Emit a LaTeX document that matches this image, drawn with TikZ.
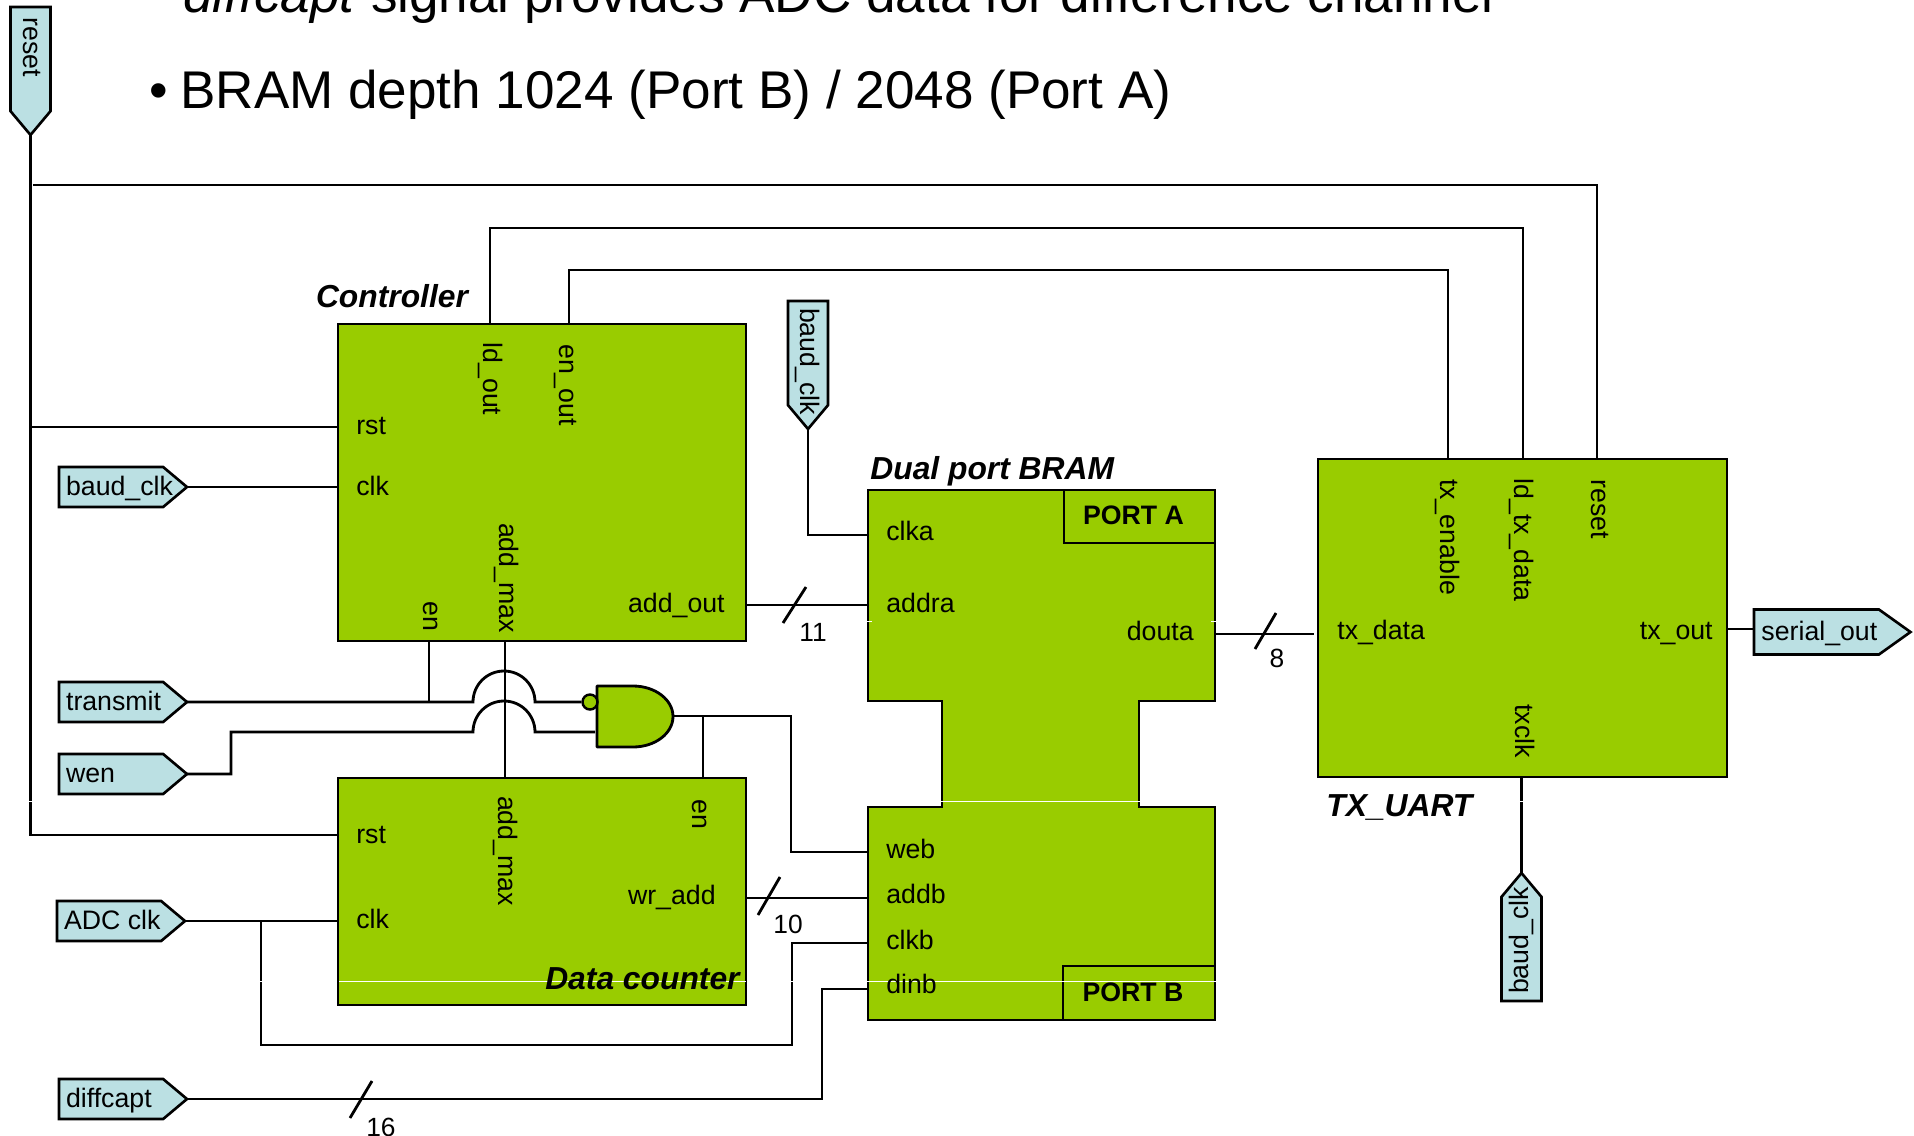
\documentclass[tikz,border=0pt]{standalone}
\usepackage{fontspec}
\setmainfont{Liberation Sans}
\usetikzlibrary{arrows.meta, positioning, shapes.symbols, calc}
\definecolor{blkgreen}{HTML}{99CC00}
\definecolor{siglblue}{HTML}{BBE0E3}
\tikzset{
  wire/.style={line width=1.6pt, line join=miter},
  blk/.style={draw=black, fill=blkgreen, line width=1.6pt, inner sep=0pt, outer sep=0pt},
  sigl/.style={draw=black, fill=siglblue, line width=1.5pt, shape=signal, signal to=east,
    signal pointer angle=80, inner sep=0pt, outer sep=0pt, anchor=west,
    minimum width=2.56cm, minimum height=0.8cm, text height=13pt, text depth=3pt},
  sigd/.style={sigl, rotate=-90, text height=11pt, text depth=3pt},
  sigu/.style={sigl, rotate=90, text height=11pt, text depth=3pt},
  plab/.style={inner sep=0pt, text height=13pt, text depth=3pt},
  pdown/.style={inner sep=0pt, rotate=-90, text height=9pt, text depth=3pt},
  ttl/.style={inner sep=0pt, font=\fontsize{18.1}{20}\selectfont\bfseries\itshape},
  bigtxt/.style={inner sep=0pt, anchor=base west, font=\fontsize{30.2}{34}\selectfont},
  num/.style={inner sep=0pt, font=\fontsize{15}{17}\selectfont},
}
\newcommand{\wblk}[6]{%
  \node[blk, anchor=north west, minimum width={(#4-#2)*0.02cm},
    minimum height={(#5-#3)*0.02cm}] (#1) at (#2,#3) {#6};}
\newcommand{\wsig}[5][]{\node[sigl, #1] (#2) at (#3,#4) {\makebox[1.8cm][l]{#5}};}
\newcommand{\wslash}[4]{\draw[wire] (#1,#2) -- (#3,#4);}
\newcommand{\whop}[1]{arc[start angle=180, end angle=360, radius=#1]}
\newcommand{\wport}[1]{\raisebox{1pt}{\bfseries #1}\kern0.24cm}

\begin{document}
\begin{tikzpicture}[x=0.02cm, y=-0.02cm,
    every node/.style={font=\fontsize{15.2}{18}\selectfont}]
\useasboundingbox (0,0) rectangle (1914,1136);
% slide text, top line is cut by the page
\node[bigtxt] (tdash) at (125,8) {–};
\node[bigtxt] (tline) at (183,12) {\textit{diffcapt} signal provides ADC data for difference channel};
\node[bigtxt] (tbull) at (180,108) {\llap{•\kern7pt}BRAM depth 1024 (Port B) / 2048 (Port A)};
% blocks
\wblk{ctrl}{338}{324}{746}{641}{}
\wblk{dcnt}{338}{778}{746}{1005}{}
\wblk{uart}{1318}{459}{1727}{777}{}
\draw[blk] (868,490) -- (1215,490) -- (1215,701) -- (1139,701) -- (1139,807) -- (1215,807)
  -- (1215,1020) -- (868,1020) -- (868,807) -- (942,807) -- (942,701) -- (868,701) -- cycle;
\wblk{porta}{1064}{490}{1215}{543}{\wport{PORT A}}
\wblk{portb}{1063}{966}{1215}{1020}{\wport{PORT B}}
% signals
\wsig[sigd]{reset}{30.5}{7}{\kern2pt reset}
\wsig{baudl}{59}{487}{baud\_clk}
\wsig{tmit}{59}{702}{transmit}
\wsig{wen}{59}{774}{wen}
\wsig{adc}{57}{921}{ADC clk}
\wsig{diff}{59}{1099}{diffcapt}
\wsig[sigd]{baudt}{808}{301}{baud\_clk}
\wsig[sigu]{baudb}{1521.5}{1001}{baud\_clk}
\node[sigl, minimum width=3.13cm, minimum height=0.9cm, signal pointer angle=71] (ser) at (1754,632)
  {\makebox[2.2cm][l]{serial\_out}};
% junctions
\foreach \n/\x/\y in {rtop/33/185, rtopr/1597/185, rtx/1597/459, rc/30.5/427, rcb/338/427,
    rbot/30.5/835, rd/338/835, ldc/490/324, ldt/490/228, ldr/1523/228, ldu/1523/459,
    enc/569/324, ent/569/270, enr/1448/270, enu/1448/459, cclk/338/487, aout/746/605,
    aina/868/605, cen/429/641, cenj/429/702, hopa/473/702, hopab/535/702,
    wena/231/774, wenb/231/732, hopc/473/732, hopcb/535/732, gin/595/732, amt/505/641, amb/505/778,
    gout/673/716, gcor/791/716, gweb/791/852, web/868/852, denj/703/716, den/703/778,
    wrad/746/898, addb/868/898, dclk/338/921, adcj/261/921, adcb/261/1045, adcc/792/1045,
    adcu/792/943, clkb/868/943, dfc/822/1099, dfu/822/989, dinb/868/989, btc/808/535,
    clka/868/535, dout/1215/634, txd/1314/634, txo/1727/629, txs/1754/629, txc/1521.5/777}
  \coordinate (\n) at (\x,\y);
% reset wires
\draw[wire] (reset.east) -- (rbot) -- (rd);
\draw[wire] (rc) -- (rcb);
\draw[wire] (rtop) -- (rtopr) -- (rtx);
% controller to uart
\draw[wire] (ldc) -- (ldt) -- (ldr) -- (ldu);
\draw[wire] (enc) -- (ent) -- (enr) -- (enu);
\draw[wire] (baudl.east) -- (cclk);
\draw[wire] (aout) -- (aina);
\wslash{783}{623}{806}{587}
% nand gate
\draw[blk, line join=round] (597,686) -- (633,686) arc[start angle=90, end angle=-90, x radius=40, y radius=-30.5]
  -- (597,747) -- cycle;
\node[circle, draw=black, fill=blkgreen, line width=1.4pt, minimum size=0.3cm, inner sep=0pt] (bub) at (590,702) {};
\draw[wire] (tmit.east) -- (hopa) \whop{31} -- (bub.west);
\draw[wire] (wen.east) -- (wena) -- (wenb) -- (hopc) \whop{31} -- (gin);
\draw[wire] (cen) -- (cenj);
\draw[wire] (amt) -- (amb);
\draw[wire] (gout) -- (gcor) -- (gweb) -- (web);
\draw[wire] (denj) -- (den);
% data counter to bram
\draw[wire] (wrad) -- (addb);
\wslash{780}{877}{758}{915}
\draw[wire] (adc.east) -- (dclk);
\draw[wire] (adcj) -- (adcb) -- (adcc) -- (adcu) -- (clkb);
\draw[wire] (diff.east) -- (dfc) -- (dfu) -- (dinb);
\wslash{372}{1081}{350}{1118}
\draw[wire] (baudt.east) -- (btc) -- (clka);
% uart
\draw[wire] (dout) -- (txd);
\wslash{1276}{613}{1255}{649}
\draw[wire] (txo) -- (txs);
\draw[wire] (txc) -- (baudb.east);
% white seams of the slide
\foreach \y/\xa/\xb in {621/864/872, 621/1211/1219, 801/26/35, 801/938/1143, 801/1518/1526,
    981/257/265, 981/339/746, 981/788/796, 981/866/1216}
  \draw[white, line width=0.45pt] (\xa,\y) -- (\xb,\y);
% bus widths
\node[num] (n11) at (813,632) {11};
\node[num] (n10) at (788,924) {10};
\node[num] (n16) at (381,1127) {16};
\node[num] (n8) at (1277,658) {8};
% titles
\node[ttl] (tctrl) at (392,296) {Controller};
\node[ttl, anchor=east] (tdcnt) at (740,979) {Data counter};
\node[ttl, anchor=west] (tbram) at (870,471) {Dual port BRAM};
\node[ttl, anchor=west] (tuart) at (1326,807) {TX\_UART};
% controller ports
\node[plab, anchor=west] (c1) at (356,426) {rst};
\node[plab, anchor=west] (c2) at (356,487) {clk};
\node[plab, anchor=east] (c3) at (725,604) {add\_out};
\node[pdown] (c4) at (429,616) {en};
\node[pdown] (c5) at (505,578) {add\_max};
\node[pdown] (c6) at (489,379) {ld\_out};
\node[pdown] (c7) at (565,385) {en\_out};
% counter ports
\node[plab, anchor=west] (d1) at (356,835) {rst};
\node[plab, anchor=west] (d2) at (356,920) {clk};
\node[pdown] (d3) at (504,851) {add\_max};
\node[pdown] (d4) at (698,814) {en};
\node[plab, anchor=east] (d5) at (716,896) {wr\_add};
% bram ports
\node[plab, anchor=west] (b1) at (886,532) {clka};
\node[plab, anchor=west] (b2) at (886,604) {addra};
\node[plab, anchor=east] (b3) at (1194,632) {douta};
\node[plab, anchor=west] (b4) at (886,850) {web};
\node[plab, anchor=west] (b5) at (886,895) {addb};
\node[plab, anchor=west] (b6) at (886,941) {clkb};
\node[plab, anchor=west] (b7) at (886,985) {dinb};
% uart ports
\node[plab, anchor=west] (u1) at (1337,631) {tx\_data};
\node[plab, anchor=east] (u2) at (1713,631) {tx\_out};
\node[pdown] (u3) at (1446,537) {tx\_enable};
\node[pdown] (u4) at (1520,540) {ld\_tx\_data};
\node[pdown] (u5) at (1597,509) {reset};
\node[pdown] (u6) at (1521,731) {txclk};
\end{tikzpicture}
\end{document}
